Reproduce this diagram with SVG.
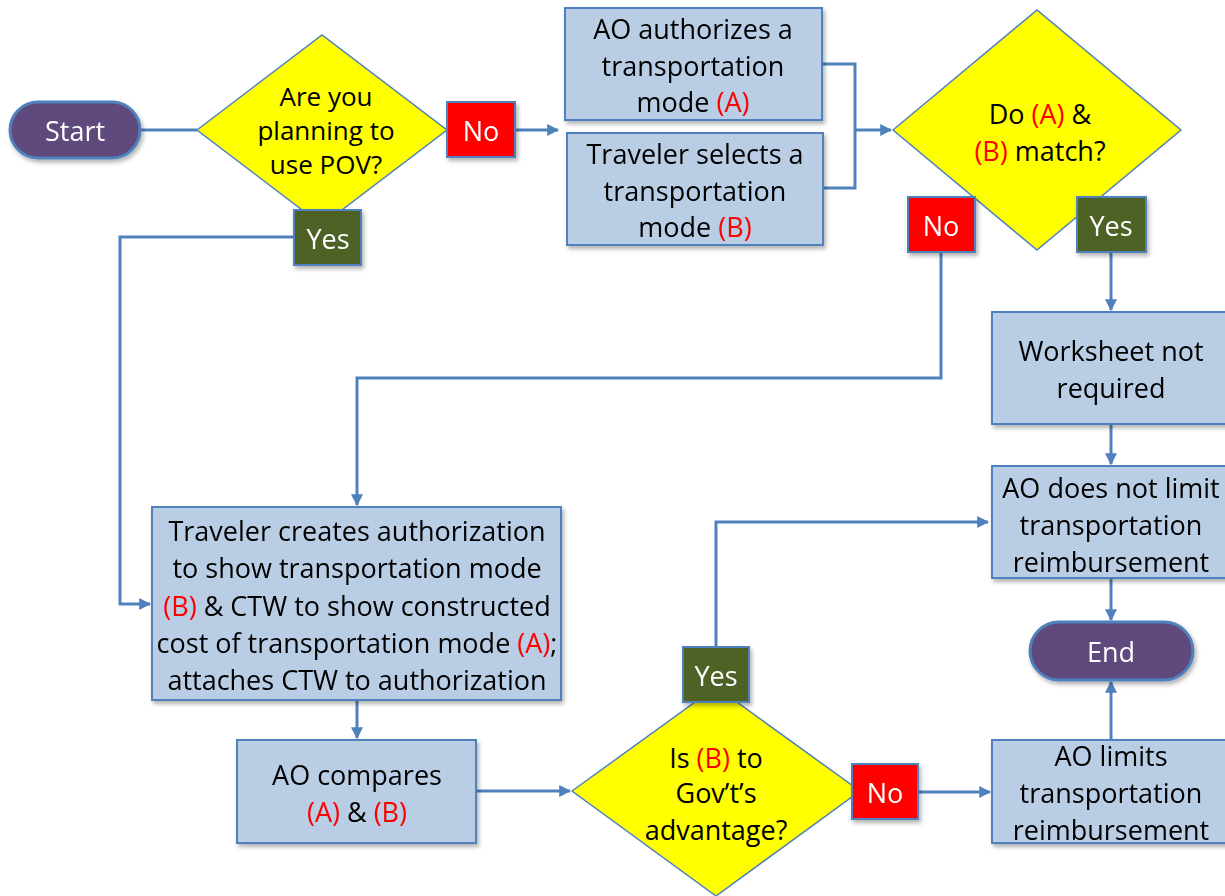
<svg xmlns="http://www.w3.org/2000/svg" width="1225" height="896" viewBox="0 0 1225 896">
<defs>
<style>
.box{fill:#b9cde5;stroke:#4f81bd;stroke-width:2}
.dia{fill:#ffff00;stroke:#4f81bd;stroke-width:1.5}
.pill{fill:#604a7b;stroke:#4f81bd;stroke-width:3}
.no{fill:#ff0000;stroke:#4f81bd;stroke-width:2}
.yes{fill:#4f6228;stroke:#4f81bd;stroke-width:2}
.t{font-family:"Open Sans","Liberation Sans",sans-serif;font-size:27px;fill:#000;text-anchor:middle;dominant-baseline:central}
.s{font-size:26px}
.w{fill:#fff}
.r{fill:#ff0000}
.c{fill:none;stroke:#4f81bd;stroke-width:3}
</style>
<marker id="ah" viewBox="0 0 10 10" refX="9" refY="5" markerWidth="4" markerHeight="4" orient="auto" markerUnits="strokeWidth">
<path d="M0,0 L10,5 L0,10 z" fill="#4f81bd"/>
</marker>
<filter id="sh" x="-10%" y="-10%" width="130%" height="130%">
<feDropShadow dx="2" dy="3" stdDeviation="2" flood-color="#000" flood-opacity="0.3"/>
</filter>
</defs>
<rect width="1225" height="896" fill="#fff"/>

<g id="connectors">
<path class="c" d="M140,130 H197"/>
<path class="c" d="M515,130 H558" marker-end="url(#ah)"/>
<path class="c" d="M294,237 H120 V604 H150" marker-end="url(#ah)"/>
<path class="c" d="M822,64 H855 V188 H823 M855,130 H891" marker-end="url(#ah)"/>
<path class="c" d="M941,252 V378 H357 V505" marker-end="url(#ah)"/>
<path class="c" d="M1111,252 V310" marker-end="url(#ah)"/>
<path class="c" d="M1111,424 V464" marker-end="url(#ah)"/>
<path class="c" d="M1111,578 V620" marker-end="url(#ah)"/>
<path class="c" d="M357,700 V738" marker-end="url(#ah)"/>
<path class="c" d="M476,791 H570" marker-end="url(#ah)"/>
<path class="c" d="M716,647 V522 H988" marker-end="url(#ah)"/>
<path class="c" d="M918,792 H990" marker-end="url(#ah)"/>
<path class="c" d="M1111,740 V682" marker-end="url(#ah)"/>
</g>

<g id="start" filter="url(#sh)">
<rect class="pill" x="10" y="102" width="130" height="56" rx="28"/>
<text class="t w" x="75" y="130">Start</text>
</g>

<g id="q1">
<polygon class="dia" points="197,130 322,35 447,130 322,225"/>
<text class="t s" x="326" y="96">Are you</text>
<text class="t s" x="326" y="130">planning to</text>
<text class="t s" x="326" y="164">use POV?</text>
</g>

<g id="no1" filter="url(#sh)">
<rect class="no" x="447" y="102" width="68" height="55"/>
<text class="t w" x="481" y="130">No</text>
</g>

<g id="yes1" filter="url(#sh)">
<rect class="yes" x="294" y="210" width="67" height="55"/>
<text class="t w" x="328" y="238">Yes</text>
</g>

<g id="ao-auth" filter="url(#sh)">
<rect class="box" x="565" y="8" width="257" height="112"/>
<text class="t" x="693" y="28">AO authorizes a</text>
<text class="t" x="693" y="65">transportation</text>
<text class="t" x="693" y="101">mode <tspan class="r">(A)</tspan></text>
</g>

<g id="trav-sel" filter="url(#sh)">
<rect class="box" x="567" y="133" width="256" height="112"/>
<text class="t" x="695" y="153">Traveler selects a</text>
<text class="t" x="695" y="190">transportation</text>
<text class="t" x="695" y="226">mode <tspan class="r">(B)</tspan></text>
</g>

<g id="q2">
<polygon class="dia" points="893,130 1037,10 1181,130 1037,250"/>
<text class="t" x="1040" y="113">Do <tspan class="r">(A)</tspan> &amp;</text>
<text class="t" x="1040" y="150"><tspan class="r">(B)</tspan> match?</text>
</g>

<g id="no2" filter="url(#sh)">
<rect class="no" x="908" y="197" width="67" height="55"/>
<text class="t w" x="941" y="225">No</text>
</g>

<g id="yes2" filter="url(#sh)">
<rect class="yes" x="1077" y="197" width="69" height="55"/>
<text class="t w" x="1111" y="225">Yes</text>
</g>

<g id="worksheet" filter="url(#sh)">
<rect class="box" x="992" y="312" width="240" height="112"/>
<text class="t" x="1111" y="350">Worksheet not</text>
<text class="t" x="1111" y="387">required</text>
</g>

<g id="no-limit" filter="url(#sh)">
<rect class="box" x="992" y="466" width="240" height="112"/>
<text class="t" x="1111" y="487">AO does not limit</text>
<text class="t" x="1111" y="524">transportation</text>
<text class="t" x="1111" y="561">reimbursement</text>
</g>

<g id="end" filter="url(#sh)">
<rect class="pill" x="1030" y="622" width="163" height="58" rx="29"/>
<text class="t w" x="1111" y="651">End</text>
</g>

<g id="trav-create" filter="url(#sh)">
<rect class="box" x="152" y="507" width="409" height="193"/>
<text class="t" x="357" y="530">Traveler creates authorization</text>
<text class="t" x="357" y="567">to show transportation mode</text>
<text class="t" x="357" y="605"><tspan class="r">(B)</tspan> &amp; CTW to show constructed</text>
<text class="t" x="357" y="642">cost of transportation mode <tspan class="r">(A)</tspan>;</text>
<text class="t" x="357" y="679">attaches CTW to authorization</text>
</g>

<g id="ao-compares" filter="url(#sh)">
<rect class="box" x="237" y="740" width="239" height="103"/>
<text class="t" x="357" y="774">AO compares</text>
<text class="t" x="357" y="811"><tspan class="r">(A)</tspan> &amp; <tspan class="r">(B)</tspan></text>
</g>

<g id="q3">
<polygon class="dia" points="572,791 716,687 860,791 716,896"/>
<text class="t" x="716" y="757">Is <tspan class="r">(B)</tspan> to</text>
<text class="t" x="716" y="792">Gov’t’s</text>
<text class="t" x="716" y="829">advantage?</text>
</g>

<g id="yes3" filter="url(#sh)">
<rect class="yes" x="683" y="647" width="66" height="55"/>
<text class="t w" x="716" y="675">Yes</text>
</g>

<g id="no3" filter="url(#sh)">
<rect class="no" x="852" y="764" width="66" height="55"/>
<text class="t w" x="885" y="792">No</text>
</g>

<g id="ao-limits" filter="url(#sh)">
<rect class="box" x="992" y="740" width="240" height="103"/>
<text class="t" x="1111" y="755">AO limits</text>
<text class="t" x="1111" y="792">transportation</text>
<text class="t" x="1111" y="829">reimbursement</text>
</g>
</svg>
